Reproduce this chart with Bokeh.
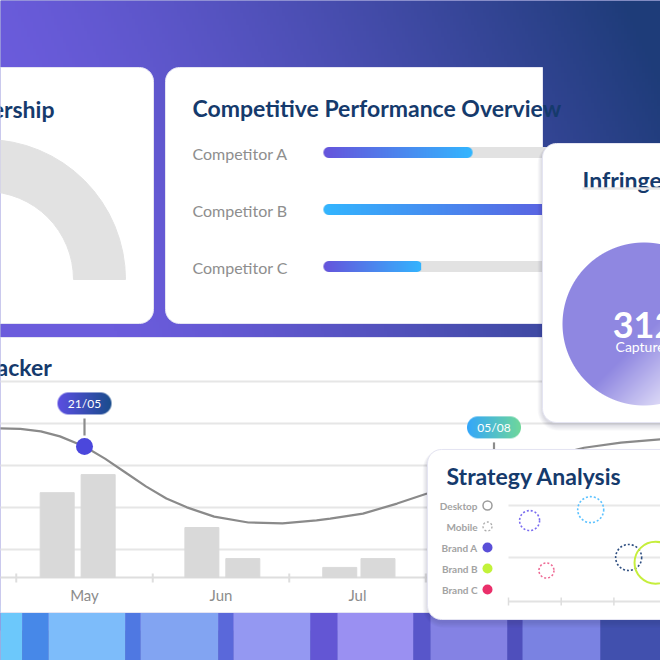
import numpy as np
from bokeh.plotting import figure
from bokeh.models import Range1d
from bokeh.core.properties import value
from bokeh.embed import file_html
from bokeh.resources import INLINE

W, H = 660, 660
FONT = value("Lato")
NAVY = "#153a6c"
GREY_TXT = "#8e8e8e"

# ---------------- data ----------------
ownership_title = "Brand Leadership"

competitors = ["Competitor A", "Competitor B", "Competitor C"]
competitor_score = [58, 92, 38]  # percent of the full track

tracker_title = "Infringement Tracker"
months = ["May", "Jun", "Jul"]
month_pos = [0, 1, 2]
bar_pos = [-0.20, 0.10, 0.86, 1.16, 1.87, 2.15]
bar_count = [20.2, 24.5, 11.9, 4.5, 2.4, 4.5]

trend_pos = [-0.76, -0.62, -0.47, -0.32, -0.18, 0.0, 0.15, 0.30, 0.45, 0.60, 0.75,
             0.95, 1.20, 1.45, 1.70, 1.80, 2.04, 2.29, 2.51, 2.75, 3.0, 3.27,
             3.49, 3.66, 3.93, 4.22, 4.44]
trend_val = [35.5, 35.5, 35.4, 34.8, 33.6, 31.2, 28.3, 25.0, 21.7, 18.8, 16.7,
             14.5, 13.1, 12.9, 13.6, 14.0, 15.2, 17.6, 20.0, 22.9, 25.5, 27.6,
             29.5, 30.9, 32.1, 32.9, 33.1]

marker_dates = ["21/05", "05/08"]
marker_pos = [0.0, 3.0]

infringe_title = "Infringements"
captured_total = 312
captured_label = "Captured"

strategy_title = "Strategy Analysis"
legend_labels = ["Desktop", "Mobile", "Brand A", "Brand B", "Brand C"]
brand_colors = ["#5a4fd8", "#c2f23a", "#ea2f6a"]
bubble_x = [0.40, 1.56, 0.72, 2.28, 2.79]
bubble_y = [1.71, 1.92, 0.75, 1.00, 0.90]
bubble_size = [20, 26, 15, 26, 42]
bubble_color = ["#7a6cf0", "#5cc2ff", "#ee6a95", "#2e4e80", "#c6ee3c"]
bubble_device = ["Mobile", "Mobile", "Mobile", "Mobile", "Desktop"]

band_edges = [0, 22, 48, 125, 140, 218, 233, 310, 337, 413, 430, 507, 522, 600, 660]
band_colors = ["#6cc8fb", "#4788e8", "#7dbcfa", "#4f78e2", "#82a4f2", "#5a68da",
               "#9498f2", "#6356d4", "#9a90f2", "#5856ca", "#8482e4", "#4f4fbc",
               "#7a82e2", "#4150ae"]

# ---------------- panel scales (pixel origin, pixels per unit) ----------------
CMP_X0, CMP_K = 323, 2.57
CMP_Y0, CMP_ROW = 394, 57
TRK_X0, TRK_K = 84, 136.5
TRK_Y0, TRK_KY = 83, 4.2
STR_X0, STR_K = 508, 52.7
STR_Y0, STR_KY = 51, 52


def lin_range(origin, k, size=W):
    return Range1d(-origin / k, (size - origin) / k)


def top(v):
    return H - v


def hex2rgb(h):
    return np.array([int(h[i:i + 2], 16) for i in (1, 3, 5)], dtype=float)


def mix(c0, c1, t):
    t = np.asarray(t, dtype=float)[..., None]
    return hex2rgb(c0) * (1 - t) + hex2rgb(c1) * t


def pack(rgb, alpha):
    h, w = alpha.shape
    out = np.zeros((h, w), dtype=np.uint32)
    view = out.view(np.uint8).reshape(h, w, 4)
    view[..., :3] = np.clip(np.broadcast_to(rgb, (h, w, 3)), 0, 255).astype(np.uint8)
    view[..., 3] = np.clip(alpha * 255, 0, 255).astype(np.uint8)
    return np.ascontiguousarray(out[::-1])


def pill_alpha(w, h):
    yy, xx = np.mgrid[0:h, 0:w] + 0.5
    r = h / 2
    cx = np.clip(xx, r, w - r)
    d = np.hypot(xx - cx, yy - r)
    return np.clip(r - d + 0.5, 0, 1)


def hgrad_pill(w, h, c0, c1):
    t = np.broadcast_to((np.arange(w) + 0.5) / w, (h, w))
    return pack(mix(c0, c1, t), pill_alpha(w, h))


def rounded_box(x0, y0, x1, y1, radii, n=12):
    tr, br, bl, tl = radii
    xs, ys = [], []
    for cx, cy, a0, r in [(x1 - tr, y0 + tr, -90, tr), (x1 - br, y1 - br, 0, br),
                          (x0 + bl, y1 - bl, 90, bl), (x0 + tl, y0 + tl, 180, tl)]:
        a = np.radians(np.linspace(a0, a0 + 90, n))
        xs.extend(cx + r * np.cos(a))
        ys.extend(H - (cy + r * np.sin(a)))
    return xs, ys


p = figure(width=W, height=H, x_range=Range1d(0, W), y_range=Range1d(0, H),
           output_backend="svg", toolbar_location=None, min_border=0,
           x_axis_location=None, y_axis_location=None)
p.grid.visible = False
p.outline_line_color = None
p.background_fill_color = "#4a4fb8"
p.border_fill_color = "#4a4fb8"
p.extra_x_ranges = {"cmp": lin_range(CMP_X0, CMP_K), "trk": lin_range(TRK_X0, TRK_K),
                    "str": lin_range(STR_X0, STR_K)}
p.extra_y_ranges = {"cmp": lin_range(CMP_Y0, CMP_ROW), "trk": lin_range(TRK_Y0, TRK_KY),
                    "str": lin_range(STR_Y0, STR_KY)}


def card(x0, y0, x1, y1, radii=(14, 14, 14, 14), shadow=0, edge="#e4e4f2"):
    for k in range(shadow, 0, -1):
        xs, ys = rounded_box(x0 - k * 0.7, y0 - k * 0.4 + 2, x1 + k * 0.7, y1 + k * 0.9 + 2,
                             tuple(r + k for r in radii))
        p.patch(xs, ys, fill_color="#1b1b4d", fill_alpha=0.025, line_color=None)
    xs, ys = rounded_box(x0, y0, x1, y1, radii)
    p.patch(xs, ys, fill_color="white", line_color=edge, line_width=1)


def title(x, y, txt, align="left", size="23px"):
    p.text(x=[x], y=[top(y)], text=[txt], text_font=FONT, text_font_style="bold",
           text_font_size=size, text_color=NAVY, text_align=align,
           text_baseline="alphabetic")


# ---------------- backdrop ----------------
bh, bw = 210, 220
yy, xx = np.mgrid[0:bh, 0:bw]
gx, gy = (xx + 0.5) * 3, (yy + 0.5) * 3
tg = np.clip(gx / 660 - gy / 660 * 0.45 + 0.05, 0, 1) ** 1.3
p.image_rgba(image=[pack(mix("#6b5cdc", "#1e3c79", tg), np.ones((bh, bw)))],
             x=0, y=H - 630, dw=660, dh=630)
p.quad(left=band_edges[:-1], right=band_edges[1:], bottom=0, top=top(605),
       fill_color=band_colors, line_color=None)

# ---------------- ownership card ----------------
card(-30, 67, 153, 323)
title(54, 108, ownership_title, align="right")
p.annular_wedge(x=-15, y=top(279), inner_radius=88, outer_radius=140,
                start_angle=0, end_angle=np.pi, color="#e2e2e2")

# ---------------- competitive performance card ----------------
card(165, 67, 542, 323, radii=(0, 0, 14, 14))
title(192, 107, "Competitive Performance Overview")
rows = [len(competitors) - 1 - i for i in range(len(competitors))]
p.text(x=[192] * len(rows), y=rows, text=competitors, y_range_name="cmp",
       text_font=FONT, text_font_size="16px", text_color=GREY_TXT,
       text_baseline="middle", y_offset=1)
p.segment(x0=5.5 / CMP_K, x1=130, y0=rows, y1=rows, line_width=11, line_cap="round",
          line_color="#e2e2e2", x_range_name="cmp", y_range_name="cmp")
bar_grad = [("#6654dc", "#33b6ff"), ("#33b6ff", "#5d5ee0"), ("#6654dc", "#33b6ff")]
for k, score, (c0, c1) in zip(rows, competitor_score, bar_grad):
    L = int(round(score * CMP_K))
    p.image_rgba(image=[hgrad_pill(L, 11, c0, c1)], x=0, y=k - 5.5 / CMP_ROW,
                 dw=score, dh=11 / CMP_ROW, x_range_name="cmp", y_range_name="cmp")

# ---------------- tracker card ----------------
card(-30, 337, 700, 612)
title(52, 366, tracker_title, align="right")
grid_tops = [381, 423, 465, 507, 549]
p.segment(x0=-30, x1=700, y0=[top(g) for g in grid_tops], y1=[top(g) for g in grid_tops],
          line_color="#e6e6e6", line_width=2)
p.segment(x0=-30, x1=700, y0=top(577), y1=top(577), line_color="#dedede", line_width=2)
ticks = [m - 0.5 for m in month_pos] + [month_pos[-1] + 0.5]
p.segment(x0=ticks, x1=ticks, y0=top(573), y1=top(582), line_color="#dedede",
          line_width=2, x_range_name="trk")
p.text(x=month_pos, y=top(594), text=months, x_range_name="trk", text_font=FONT,
       text_font_size="15px", text_color="#8c8c8c", text_align="center",
       text_baseline="middle")
p.vbar(x=bar_pos, top=bar_count, bottom=0, width=34 / TRK_K, color="#d9d9d9",
       x_range_name="trk", y_range_name="trk")
p.line(trend_pos, trend_val, line_color="#8a8a8a", line_width=2.2,
       x_range_name="trk", y_range_name="trk")

marker_val = [trend_val[trend_pos.index(m)] for m in marker_pos]
p.segment(x0=marker_pos, x1=marker_pos, y0=[v + 11 / TRK_KY for v in marker_val],
          y1=[v + 28 / TRK_KY for v in marker_val], line_color="#8c8c8c", line_width=2.2,
          x_range_name="trk", y_range_name="trk")
p.scatter(marker_pos, marker_val, size=17, fill_color="#4b47dc", line_color=None,
          x_range_name="trk", y_range_name="trk")
pill_cols = [("#5c4fe2", "#1a4c8c"), ("#33a6fb", "#6fd89a")]
for m, v, (c0, c1) in zip(marker_pos, marker_val, pill_cols):
    p.image_rgba(image=[hgrad_pill(54, 22, c0, c1)], x=m - 27 / TRK_K, y=v + 32 / TRK_KY,
                 dw=54 / TRK_K, dh=22 / TRK_KY, x_range_name="trk", y_range_name="trk")
p.text(x=marker_pos, y=[v + 43 / TRK_KY for v in marker_val], text=marker_dates,
       x_range_name="trk", y_range_name="trk", text_font=FONT, text_font_size="12px",
       text_color="white", text_align="center", text_baseline="middle")

# ---------------- infringements card ----------------
card(542, 143, 700, 422, shadow=7)
title(582, 179, infringe_title)
p.segment(x0=582, x1=700, y0=top(188), y1=top(188), line_color="#e8e8e8", line_width=2.5)
S, R, CX, CY = 172, 81.5, 643.5, 323.5
yy, xx = np.mgrid[0:S, 0:S] + 0.5
dist = np.hypot(xx - S / 2, yy - S / 2)
diag = ((xx - S / 2) + (yy - S / 2)) / (np.sqrt(2) * R)
shade = np.clip((diag - 0.1) / 0.9, 0, 1)
p.image_rgba(image=[pack(mix("#8f87e1", "#eceafb", shade), np.clip(R - dist + 0.5, 0, 1))],
             x=CX - S / 2, y=top(CY + S / 2), dw=S, dh=S)
p.text(x=[CX], y=[top(324)], text=[str(captured_total)], text_font=FONT,
       text_font_style="bold", text_font_size="36px", text_color="white",
       text_align="center", text_baseline="alphabetic")
p.text(x=[CX], y=[top(346)], text=[captured_label], text_font=FONT,
       text_font_size="14px", text_color="white", text_align="center",
       text_baseline="alphabetic")

# ---------------- strategy card ----------------
card(427, 449, 700, 619, shadow=7)
title(446, 475, strategy_title)
leg_y = [top(505 + 21 * i) for i in range(len(legend_labels))]
p.text(x=[477] * len(legend_labels), y=leg_y, text=legend_labels, text_font=FONT,
       text_font_style="bold", text_font_size="10px", text_color="#a3a3a3",
       text_align="right", text_baseline="middle")
p.scatter([487], [leg_y[0]], size=9, fill_color=None, line_color="#9b9b9b", line_width=1.5)
p.scatter([487], [leg_y[1]], size=9, fill_color=None, line_color="#aaaaaa", line_width=1.3,
          line_dash="2 2")
p.scatter([487] * 3, leg_y[2:], size=10, fill_color=brand_colors, line_color=None)

p.segment(x0=0, x1=4, y0=[1, 2], y1=[1, 2], line_color="#e8e8e8", line_width=2,
          x_range_name="str", y_range_name="str")
p.segment(x0=508, x1=700, y0=top(601), y1=top(601), line_color="#e2e2e2", line_width=2)
p.segment(x0=[0, 1, 2, 3], x1=[0, 1, 2, 3], y0=top(597), y1=top(605),
          line_color="#dddddd", line_width=1.5, x_range_name="str")

mob = [i for i, d in enumerate(bubble_device) if d == "Mobile"]
desk = [i for i, d in enumerate(bubble_device) if d == "Desktop"]
p.scatter([bubble_x[i] for i in mob], [bubble_y[i] for i in mob],
          size=[bubble_size[i] for i in mob], fill_color=None,
          line_color=[bubble_color[i] for i in mob], line_width=1.6, line_dash="2 2",
          x_range_name="str", y_range_name="str")
p.scatter([bubble_x[i] for i in desk], [bubble_y[i] for i in desk],
          size=[bubble_size[i] for i in desk], fill_color=None,
          line_color=[bubble_color[i] for i in desk], line_width=2,
          x_range_name="str", y_range_name="str")

open("out.html", "w").write(file_html(p, INLINE))
